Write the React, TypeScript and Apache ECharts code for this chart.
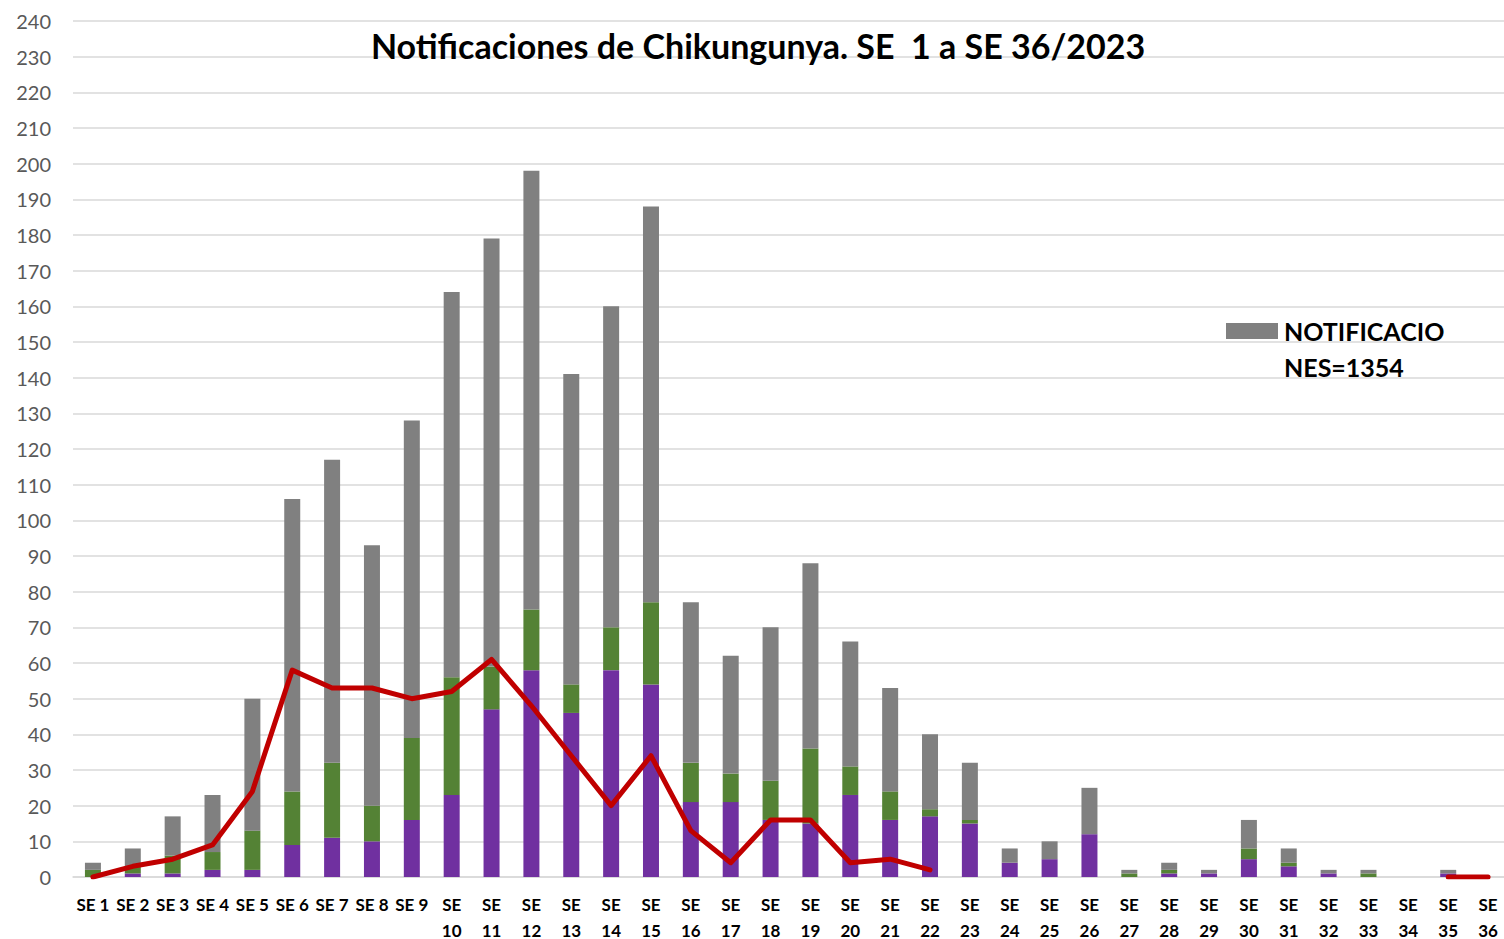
import React, { useEffect, useRef } from "react";
import * as echarts from "echarts";

const categories = Array.from({ length: 36 }, (_, i) => `SE ${i + 1}`);
const purple = [0, 1, 1, 2, 2, 9, 11, 10, 16, 23, 47, 58, 46, 58, 54, 21, 21, 16, 15, 23, 16, 17, 15, 4, 5, 12, 0, 1, 1, 5, 3, 1, 0, 0, 1, 0];
const green = [2, 2, 5, 5, 11, 15, 21, 10, 23, 33, 12, 17, 8, 12, 23, 11, 8, 11, 21, 8, 8, 2, 1, 0, 0, 0, 1, 1, 0, 3, 1, 0, 1, 0, 0, 0];
const gray = [2, 5, 11, 16, 37, 82, 85, 73, 89, 108, 120, 123, 87, 90, 111, 45, 33, 43, 52, 35, 29, 21, 16, 4, 5, 13, 1, 2, 1, 8, 4, 1, 1, 0, 1, 0];
const redLine: (number | null)[] = [0, 3, 5, 9, 24, 58, 53, 53, 50, 52, 61, 48, 34, 20, 34, 13, 4, 16, 16, 4, 5, 2, null, null, null, null, null, null, null, null, null, null, null, null, 0, 0];
const legendLines = ["NOTIFICACIO", "NES=1354"];
const title = "Notificaciones de Chikungunya. SE  1 a SE 36/2023";

export default function App() {
  const ref = useRef<HTMLDivElement>(null);
  useEffect(() => {
    if (!ref.current) return;
    const chart = echarts.init(ref.current, null, { renderer: "svg" });
    const font = "Lato, 'Open Sans', sans-serif";
    chart.setOption({
      animation: false,
      backgroundColor: "#ffffff",
      title: {
        text: title,
        left: 753,
        top: 23,
        textAlign: "center",
        textStyle: { fontFamily: font, fontWeight: "bold", fontSize: 34, color: "#000" },
      },
      graphic: [
        { type: "rect", left: 1226, top: 323, shape: { width: 52, height: 16 }, style: { fill: "#808080" } },
        {
          type: "text",
          left: 1284,
          top: 313,
          style: {
            text: legendLines.join("\n"),
            font: `bold 25px ${font}`,
            fill: "#000",
            lineHeight: 36,
          },
        },
      ],
      grid: { left: 73, top: 21, width: 1435, height: 856, containLabel: false, outerBoundsMode: "none" },
      xAxis: {
        type: "category",
        data: categories,
        axisLine: { lineStyle: { color: "#d9d9d9", width: 1.5 } },
        axisTick: { show: false },
        axisLabel: {
          interval: 0,
          margin: 14,
          fontFamily: font,
          fontWeight: "bold",
          fontSize: 17,
          color: "#000",
          lineHeight: 26,
          formatter: (v: string) => {
            const n = parseInt(v.replace("SE ", ""), 10);
            return n >= 10 ? `SE\n${n}` : v;
          },
        },
      },
      yAxis: {
        type: "value",
        min: 0,
        max: 240,
        interval: 10,
        axisLine: { show: false },
        axisTick: { show: false },
        axisLabel: { fontFamily: font, fontSize: 20, color: "#595959", margin: 22 },
        splitLine: { lineStyle: { color: "#d9d9d9", width: 1.5 } },
      },
      series: [
        { name: "Confirmados", type: "bar", stack: "t", barWidth: 16, data: purple, itemStyle: { color: "#7030A0" } },
        { name: "Probables", type: "bar", stack: "t", data: green, itemStyle: { color: "#548235" } },
        { name: "Notificaciones", type: "bar", stack: "t", data: gray, itemStyle: { color: "#808080" } },
        {
          name: "Linea",
          type: "line",
          data: redLine,
          symbol: "none",
          connectNulls: false,
          lineStyle: { color: "#C00000", width: 5, cap: "round", join: "round" },
          itemStyle: { color: "#C00000" },
          z: 5,
        },
      ],
    });
    return () => chart.dispose();
  }, []);
  return <div ref={ref} style={{ position: "fixed", left: 0, top: 0, width: 1504, height: 939 }} />;
}
